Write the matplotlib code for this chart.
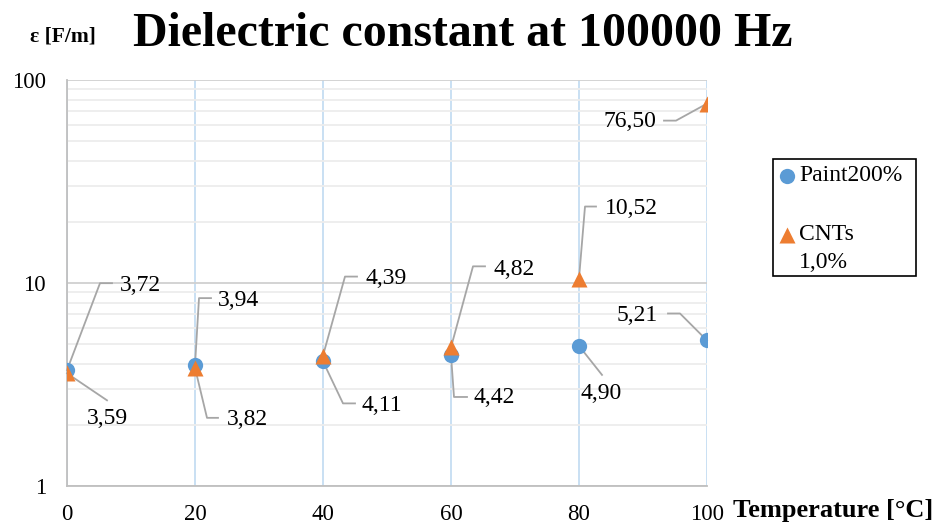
import matplotlib
matplotlib.use('Agg')
import matplotlib.pyplot as plt
from matplotlib.lines import Line2D
from matplotlib.patches import Rectangle
from matplotlib.transforms import ScaledTranslation
from matplotlib.ticker import FixedLocator, FixedFormatter, LogLocator, NullFormatter

plt.rcParams['font.family'] = ['Liberation Serif', 'DejaVu Serif']

# data
temperature = [0, 20, 40, 60, 80, 100]
paint_values = [3.72, 3.94, 4.11, 4.42, 4.90, 5.21]
cnt_values = [3.59, 3.82, 4.39, 4.82, 10.52, 76.50]
paint_labels = ['3,72', '3,94', '4,11', '4,42', '4,90', '5,21']
cnt_labels = ['3,59', '3,82', '4,39', '4,82', '10,52', '76,50']
y_ticks = [1, 10, 100]
y_tick_labels = ['1', '10', '100']
x_ticks = [0, 20, 40, 60, 80, 100]

BLUE = '#5B9BD5'
ORANGE = '#ED7D31'
LEADER = '#A6A6A6'

# leader layout in pixels relative to the point: (polyline points, text pos, ha)
paint_layout = [
    ([(0, 0), (33, 87), (45, 87)], (53, 85), 'left'),
    ([(0, 0), (4, 67), (16, 67)], (23, 65), 'left'),
    ([(0, 0), (20, -42), (32, -42)], (39, -44), 'left'),
    ([(0, 0), (3, -42), (16, -42)], (23, -43), 'left'),
    ([(0, 0), (23, -29)], (22, -48), 'center'),
    ([(0, 0), (-27, 27), (-39, 27)], (-49, 25), 'right'),
]
cnt_layout = [
    ([(0, 0), (40, -27)], (40, -45), 'center'),
    ([(0, 0), (12, -50), (23, -50)], (32, -52), 'left'),
    ([(0, 0), (22, 79), (34, 79)], (42, 77), 'left'),
    ([(0, 0), (22, 81), (34, 81)], (42, 78), 'left'),
    ([(0, 0), (6, 72), (17, 72)], (26, 70), 'left'),
    ([(0, 0), (-31, -17), (-43, -17)], (-51, -18), 'right'),
]

fig = plt.figure(figsize=(9.41, 5.30), dpi=100)
ax = fig.add_axes([67 / 941, 44 / 530, 640 / 941, 406 / 530])

ax.set_yscale('log')
ax.set_xlim(0, 100)
ax.set_ylim(1, 100)

# grid
ax.yaxis.set_major_locator(FixedLocator(y_ticks))
ax.yaxis.set_major_formatter(FixedFormatter(y_tick_labels))
ax.yaxis.set_minor_locator(LogLocator(base=10, subs=range(2, 10)))
ax.yaxis.set_minor_formatter(NullFormatter())
ax.xaxis.set_major_locator(FixedLocator(x_ticks))
ax.grid(axis='y', which='major', color='#D0D0D0', lw=1.3)
ax.grid(axis='y', which='minor', color='#EDEDED', lw=1.3)
ax.grid(axis='x', which='major', color='#C5DDF2', lw=1.3)
ax.set_axisbelow(True)
ax.tick_params(which='both', length=0)
ax.tick_params(axis='y', pad=15, labelsize=16.5)
ax.tick_params(axis='x', pad=13, labelsize=16.5)
for side in ['top', 'right']:
    ax.spines[side].set_visible(False)
for side in ['left', 'bottom']:
    ax.spines[side].set_color('#BFBFBF')
    ax.spines[side].set_linewidth(1.3)

ax.plot(temperature, paint_values, 'o', color=BLUE, ms=11, mec='none', zorder=4)
ax.plot(temperature, cnt_values, '^', color=ORANGE, ms=12, mec='none', zorder=5)


def add_labels(xs, ys, labels, layout):
    for x, y, lab, (pts, tpos, ha) in zip(xs, ys, labels, layout):
        trans = fig.dpi_scale_trans + ScaledTranslation(x, y, ax.transData)
        ax.add_line(Line2D([p[0] / 100 for p in pts], [p[1] / 100 for p in pts],
                           transform=trans, color=LEADER, lw=1.3, zorder=3,
                           clip_on=False))
        ax.annotate(lab, (x, y), xytext=tpos, textcoords='offset pixels',
                    ha=ha, va='center', fontsize=17, zorder=6)


add_labels(temperature, paint_values, paint_labels, paint_layout)
add_labels(temperature, cnt_values, cnt_labels, cnt_layout)

# legend box drawn by hand (marker sits on the first line of "CNTs 1,0%")
fig.patches.append(Rectangle((773 / 941, 1 - 276 / 530), 143 / 941, 117 / 530,
                             transform=fig.transFigure, fill=False,
                             edgecolor='black', lw=1.2))
fig.add_artist(Line2D([787 / 941], [1 - 176 / 530], ls='none', marker='o',
                      color=BLUE, ms=11, mec='none'))
fig.add_artist(Line2D([787 / 941], [1 - 235 / 530], ls='none', marker='^',
                      color=ORANGE, ms=11, mec='none'))
fig.text(799 / 941, 1 - 176 / 530, 'Paint200%', fontsize=17, ha='left', va='center')
fig.text(799 / 941, 1 - 235 / 530, 'CNTs', fontsize=17, ha='left', va='center')
fig.text(799 / 941, 1 - 262 / 530, '1,0%', fontsize=17, ha='left', va='center')

# titles
fig.text(133 / 941, 1 - 46 / 530, 'Dielectric constant at 100000 Hz',
         fontsize=34.5, fontweight='bold', ha='left', va='baseline')
fig.text(30 / 941, 1 - 42 / 530, 'ε [F/m]', fontsize=15.5, fontweight='bold',
         ha='left', va='baseline')
fig.text(733 / 941, 1 - 511 / 530, 'Temperature [°C]', fontsize=19,
         fontweight='bold', ha='left', va='center')

fig.savefig('out.png', dpi=100)
